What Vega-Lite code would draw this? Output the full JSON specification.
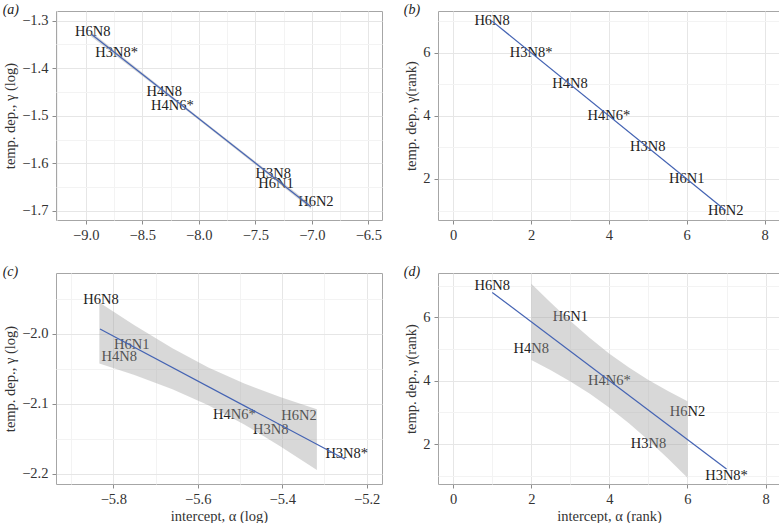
{
  "$schema": "https://vega.github.io/schema/vega-lite/v6.json",
  "padding": {"left": 2, "top": 2, "right": 2, "bottom": 0},
  "background": "white",
  "columns": 2,
  "align": "each",
  "spacing": {"row": 22, "column": 20},
  "concat": [
    {
      "title": {"text": "(a)"},
      "width": 326,
      "height": 209,
      "encoding": {
        "x": {"field": "a", "type": "quantitative",
          "scale": {"domain": [-9.263, -6.379], "nice": false, "zero": false},
          "axis": {"title": null, "format": ".1f",
            "values": [-9.25, -9, -8.75, -8.5, -8.25, -8, -7.75, -7.5, -7.25, -7, -6.75, -6.5],
            "labelExpr": "abs(datum.value*2-round(datum.value*2))<1e-6 ? datum.label : ''",
            "tickOpacity": {"condition": {"test": "abs(datum.value*2-round(datum.value*2))<1e-6", "value": 1}, "value": 0},
            "gridColor": {"condition": {"test": "abs(datum.value*2-round(datum.value*2))<1e-6", "value": "#e6e6e6"}, "value": "#f3f3f3"}}},
        "y": {"field": "g", "type": "quantitative",
          "scale": {"domain": [-1.719, -1.2796], "nice": false, "zero": false},
          "axis": {"title": "temp. dep., γ (log)", "format": ".1f",
            "values": [-1.7, -1.65, -1.6, -1.55, -1.5, -1.45, -1.4, -1.35, -1.3],
            "labelExpr": "abs(datum.value*10-round(datum.value*10))<1e-6 ? datum.label : ''",
            "tickOpacity": {"condition": {"test": "abs(datum.value*10-round(datum.value*10))<1e-6", "value": 1}, "value": 0},
            "gridColor": {"condition": {"test": "abs(datum.value*10-round(datum.value*10))<1e-6", "value": "#e6e6e6"}, "value": "#f3f3f3"}}}
      },
      "layer": [
        {
          "data": {"values": [
            {"name": "H6N8", "a": -8.938, "g": -1.323},
            {"name": "H3N8*", "a": -8.726, "g": -1.3685},
            {"name": "H4N8", "a": -8.305, "g": -1.45},
            {"name": "H4N6*", "a": -8.234, "g": -1.479},
            {"name": "H3N8", "a": -7.341, "g": -1.622},
            {"name": "H6N1", "a": -7.317, "g": -1.644},
            {"name": "H6N2", "a": -6.964, "g": -1.682}
          ]},
          "mark": {"type": "text", "fontSize": 14.5, "color": "#222222", "baseline": "middle"},
          "encoding": {"text": {"field": "name"}}
        },
        {
          "data": {"values": [
            {"a": -8.95, "g": -1.3336, "g2": -1.3236},
            {"a": -8.46, "g": -1.4235, "g2": -1.4165},
            {"a": -7.98, "g": -1.5126, "g2": -1.5066},
            {"a": -7.49, "g": -1.6045, "g2": -1.5975},
            {"a": -7.008, "g": -1.696, "g2": -1.686}
          ]},
          "mark": {"type": "area", "color": "#9e9e9e", "opacity": 0.4},
          "encoding": {"y2": {"field": "g2"}}
        },
        {
          "data": {"values": [
            {"a": -8.95, "g": -1.3286},
            {"a": -7.008, "g": -1.691}
          ]},
          "mark": {"type": "line", "color": "#4463b3", "strokeWidth": 1.2},
          "encoding": {}
        }
      ]
    },
    {
      "title": {"text": "(b)"},
      "width": 341,
      "height": 209,
      "encoding": {
        "x": {"field": "a", "type": "quantitative",
          "scale": {"domain": [-0.39, 8.37], "nice": false, "zero": false},
          "axis": {"title": null, "format": "d",
            "values": [0, 1, 2, 3, 4, 5, 6, 7, 8],
            "labelExpr": "abs(datum.value/2-round(datum.value/2))<1e-6 ? datum.label : ''",
            "tickOpacity": {"condition": {"test": "abs(datum.value/2-round(datum.value/2))<1e-6", "value": 1}, "value": 0},
            "gridColor": {"condition": {"test": "abs(datum.value/2-round(datum.value/2))<1e-6", "value": "#e6e6e6"}, "value": "#f3f3f3"}}},
        "y": {"field": "g", "type": "quantitative",
          "scale": {"domain": [0.7, 7.32], "nice": false, "zero": false},
          "axis": {"title": "temp. dep., γ(rank)", "format": "d",
            "values": [1, 2, 3, 4, 5, 6, 7],
            "labelExpr": "abs(datum.value/2-round(datum.value/2))<1e-6 ? datum.label : ''",
            "tickOpacity": {"condition": {"test": "abs(datum.value/2-round(datum.value/2))<1e-6", "value": 1}, "value": 0},
            "gridColor": {"condition": {"test": "abs(datum.value/2-round(datum.value/2))<1e-6", "value": "#e6e6e6"}, "value": "#f3f3f3"}}}
      },
      "layer": [
        {
          "data": {"values": [
            {"name": "H6N8", "a": 1, "g": 7},
            {"name": "H3N8*", "a": 2, "g": 6},
            {"name": "H4N8", "a": 3, "g": 5},
            {"name": "H4N6*", "a": 4, "g": 4},
            {"name": "H3N8", "a": 5, "g": 3},
            {"name": "H6N1", "a": 6, "g": 2},
            {"name": "H6N2", "a": 7, "g": 1}
          ]},
          "mark": {"type": "text", "fontSize": 14.5, "color": "#222222", "baseline": "middle"},
          "encoding": {"text": {"field": "name"}}
        },
        {
          "data": {"values": [
            {"a": 1, "g": 7},
            {"a": 7, "g": 1}
          ]},
          "mark": {"type": "line", "color": "#4463b3", "strokeWidth": 1.2},
          "encoding": {}
        }
      ]
    },
    {
      "title": {"text": "(c)"},
      "width": 326,
      "height": 211,
      "encoding": {
        "x": {"field": "a", "type": "quantitative",
          "scale": {"domain": [-5.9357, -5.1638], "nice": false, "zero": false},
          "axis": {"title": "intercept, α (log)", "format": ".1f",
            "values": [-5.9, -5.8, -5.7, -5.6, -5.5, -5.4, -5.3, -5.2],
            "labelExpr": "abs(datum.value*5-round(datum.value*5))<1e-6 ? datum.label : ''",
            "tickOpacity": {"condition": {"test": "abs(datum.value*5-round(datum.value*5))<1e-6", "value": 1}, "value": 0},
            "gridColor": {"condition": {"test": "abs(datum.value*5-round(datum.value*5))<1e-6", "value": "#e6e6e6"}, "value": "#f3f3f3"}}},
        "y": {"field": "g", "type": "quantitative",
          "scale": {"domain": [-2.2143, -1.9129], "nice": false, "zero": false},
          "axis": {"title": "temp. dep., γ (log)", "format": ".1f",
            "values": [-2.2, -2.15, -2.1, -2.05, -2.0, -1.95],
            "labelExpr": "abs(datum.value*10-round(datum.value*10))<1e-6 ? datum.label : ''",
            "tickOpacity": {"condition": {"test": "abs(datum.value*10-round(datum.value*10))<1e-6", "value": 1}, "value": 0},
            "gridColor": {"condition": {"test": "abs(datum.value*10-round(datum.value*10))<1e-6", "value": "#e6e6e6"}, "value": "#f3f3f3"}}}
      },
      "layer": [
        {
          "data": {"values": [
            {"name": "H6N8", "a": -5.8291, "g": -1.951},
            {"name": "H6N1", "a": -5.7564, "g": -2.0157},
            {"name": "H4N8", "a": -5.7858, "g": -2.033},
            {"name": "H4N6*", "a": -5.5135, "g": -2.116},
            {"name": "H6N2", "a": -5.3603, "g": -2.117},
            {"name": "H3N8", "a": -5.4273, "g": -2.137},
            {"name": "H3N8*", "a": -5.2473, "g": -2.172}
          ]},
          "mark": {"type": "text", "fontSize": 14.5, "color": "#222222", "baseline": "middle"},
          "encoding": {"text": {"field": "name"}}
        },
        {
          "data": {"values": [
            {"a": -5.833, "g": -2.042, "g2": -1.955},
            {"a": -5.75, "g": -2.0587, "g2": -1.9875},
            {"a": -5.66, "g": -2.0789, "g2": -2.0205},
            {"a": -5.575, "g": -2.1018, "g2": -2.0478},
            {"a": -5.49, "g": -2.1292, "g2": -2.0708},
            {"a": -5.405, "g": -2.1602, "g2": -2.09},
            {"a": -5.318, "g": -2.1944, "g2": -2.1074}
          ]},
          "mark": {"type": "area", "color": "#9e9e9e", "opacity": 0.4},
          "encoding": {"y2": {"field": "g2"}}
        },
        {
          "data": {"values": [
            {"a": -5.8315, "g": -1.993},
            {"a": -5.2513, "g": -2.179}
          ]},
          "mark": {"type": "line", "color": "#4463b3", "strokeWidth": 1.2},
          "encoding": {}
        }
      ]
    },
    {
      "title": {"text": "(d)"},
      "width": 342,
      "height": 211,
      "encoding": {
        "x": {"field": "a", "type": "quantitative",
          "scale": {"domain": [-0.39, 8.37], "nice": false, "zero": false},
          "axis": {"title": "intercept, α (rank)", "format": "d",
            "values": [0, 1, 2, 3, 4, 5, 6, 7, 8],
            "labelExpr": "abs(datum.value/2-round(datum.value/2))<1e-6 ? datum.label : ''",
            "tickOpacity": {"condition": {"test": "abs(datum.value/2-round(datum.value/2))<1e-6", "value": 1}, "value": 0},
            "gridColor": {"condition": {"test": "abs(datum.value/2-round(datum.value/2))<1e-6", "value": "#e6e6e6"}, "value": "#f3f3f3"}}},
        "y": {"field": "g", "type": "quantitative",
          "scale": {"domain": [0.738, 7.4], "nice": false, "zero": false},
          "axis": {"title": "temp. dep., γ(rank)", "format": "d",
            "values": [1, 2, 3, 4, 5, 6, 7],
            "labelExpr": "abs(datum.value/2-round(datum.value/2))<1e-6 ? datum.label : ''",
            "tickOpacity": {"condition": {"test": "abs(datum.value/2-round(datum.value/2))<1e-6", "value": 1}, "value": 0},
            "gridColor": {"condition": {"test": "abs(datum.value/2-round(datum.value/2))<1e-6", "value": "#e6e6e6"}, "value": "#f3f3f3"}}}
      },
      "layer": [
        {
          "data": {"values": [
            {"name": "H6N8", "a": 1, "g": 7},
            {"name": "H6N1", "a": 3, "g": 6},
            {"name": "H4N8", "a": 2, "g": 5},
            {"name": "H4N6*", "a": 4, "g": 4},
            {"name": "H6N2", "a": 6, "g": 3},
            {"name": "H3N8", "a": 5, "g": 2},
            {"name": "H3N8*", "a": 7, "g": 1}
          ]},
          "mark": {"type": "text", "fontSize": 14.5, "color": "#222222", "baseline": "middle"},
          "encoding": {"text": {"field": "name"}}
        },
        {
          "data": {"values": [
            {"a": 2, "g": 4.65, "g2": 7.064},
            {"a": 2.5, "g": 4.326, "g2": 6.459},
            {"a": 3, "g": 3.975, "g2": 5.882},
            {"a": 3.5, "g": 3.585, "g2": 5.344},
            {"a": 4, "g": 3.147, "g2": 4.853},
            {"a": 4.5, "g": 2.656, "g2": 4.415},
            {"a": 5, "g": 2.118, "g2": 4.025},
            {"a": 5.5, "g": 1.541, "g2": 3.674},
            {"a": 6, "g": 0.936, "g2": 3.35}
          ]},
          "mark": {"type": "area", "color": "#9e9e9e", "opacity": 0.4},
          "encoding": {"y2": {"field": "g2"}}
        },
        {
          "data": {"values": [
            {"a": 1, "g": 6.786},
            {"a": 7, "g": 1.214}
          ]},
          "mark": {"type": "line", "color": "#4463b3", "strokeWidth": 1.2},
          "encoding": {}
        }
      ]
    }
  ],
  "config": {
    "font": "Liberation Serif",
    "text": {"font": "Liberation Serif"},
    "view": {"stroke": "#a6a6a6", "strokeWidth": 1},
    "axis": {
      "domain": false,
      "grid": true,
      "gridWidth": 1,
      "tickColor": "#8c8c8c",
      "tickSize": 4,
      "tickWidth": 1,
      "labelFont": "Liberation Serif",
      "labelFontSize": 14.5,
      "labelColor": "#333333",
      "labelPadding": 4,
      "labelOverlap": false,
      "labelFlush": false,
      "titleFont": "Liberation Serif",
      "titleFontSize": 14.5,
      "titleFontWeight": "normal",
      "titleColor": "#333333",
      "titlePadding": 4
    },
    "title": {
      "font": "Liberation Serif",
      "fontSize": 14,
      "fontStyle": "italic",
      "fontWeight": "normal",
      "anchor": "start",
      "frame": "bounds",
      "color": "#222222",
      "offset": -6
    }
  }
}
